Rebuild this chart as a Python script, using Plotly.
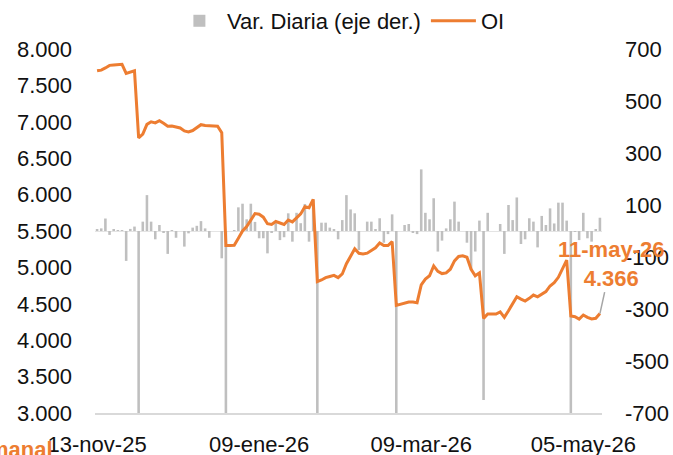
import plotly.graph_objects as go

# ---- data ----
OI = [7700, 7710, 7740, 7775, 7780, 7785, 7790, 7665, 7680, 7700,
      6780, 6830, 6965, 7000, 6985, 7015, 6980, 6940, 6942, 6925,
      6915, 6874, 6860, 6880, 6918, 6960, 6948, 6942, 6942, 6940,
      6850, 5300, 5300, 5305, 5400, 5500, 5560, 5660, 5740, 5730,
      5690, 5600, 5590, 5630, 5605, 5590, 5650, 5625, 5680, 5735,
      5834, 5820, 5935, 4804, 4827, 4860, 4875, 4890, 4860, 4910,
      5050, 5150, 5255, 5193, 5184, 5195, 5236, 5270, 5335, 5300,
      5300, 5355, 4479, 4492, 4510, 4525, 4524, 4515, 4760, 4840,
      4885, 5020, 4945, 4915, 4925, 4975, 5090, 5150, 5160, 5140,
      4975, 4885, 4925, 4300, 4360, 4360, 4360, 4388, 4314, 4405,
      4500, 4598, 4565, 4538, 4575, 4620, 4595, 4635, 4667, 4745,
      4790, 4864, 4973, 5100, 4332, 4323, 4290, 4346, 4314, 4292,
      4301, 4366]

VAR_DIARIA = [5, 10, 48, -15, 5, 3, 3, -115, 8, 17,
              -920, 36, 138, 36, -32, 23, -5, -88, 2, -26,
              0, -60, -9, 13, 20, 38, 10, -26, 0, 0,
              -105, -1550, 0, 3, 91, 105, 45, 105, 35, -28,
              -28, -86, -5, 30, -35, -24, 68, -41, 70, 30,
              104, -41, 122, -1130, 32, 32, 13, 6, -32, 42,
              138, 83, 68, -73, 0, 36, 36, 6, 49, -45,
              -12, 64, -880, 0, 23, 27, -5, -12, 237, 70,
              45, 126, -79, -37, 10, 45, 113, 36, 0, -45,
              -150, -79, 40, -650, 70, 0, 0, 27, -88, 100,
              42, 129, -50, -32, 49, 36, -63, 58, 23, 87,
              29, 109, 109, 40, -770, -3, -35, 70, -28, -41,
              4, 51]

X_INDEX = list(range(len(OI)))
X_TICK_POS = [0, 39, 78, 117]
X_TICK_TEXT = ["13-nov-25", "09-ene-26", "09-mar-26", "05-may-26"]

LEFT_TICKS = [3000, 3500, 4000, 4500, 5000, 5500, 6000, 6500, 7000, 7500, 8000]
LEFT_TICK_TEXT = ["3.000", "3.500", "4.000", "4.500", "5.000", "5.500",
                  "6.000", "6.500", "7.000", "7.500", "8.000"]
RIGHT_TICKS = [-700, -500, -300, -100, 100, 300, 500, 700]
RIGHT_TICK_TEXT = ["-700", "-500", "-300", "-100", "100", "300", "500", "700"]

LAST_LABEL_DATE = "11-may-26"
LAST_LABEL_VALUE = "4.366"

ORANGE = "#ED7D31"
GREY_BAR = "#BFBFBF"
FONT = "Liberation Sans, Arial, sans-serif"
TXT = "#111111"

fig = go.Figure()

fig.add_trace(go.Bar(
    x=X_INDEX, y=VAR_DIARIA, name="Var. Diaria (eje der.)",
    marker=dict(color=GREY_BAR, line=dict(width=0)),
    yaxis="y",
))
fig.add_trace(go.Scatter(
    x=X_INDEX, y=OI, name="OI", mode="lines",
    line=dict(color=ORANGE, width=3),
    yaxis="y2",
))

fig.update_layout(
    width=673, height=455,
    margin=dict(l=95, r=71, t=49, b=42, autoexpand=False),
    paper_bgcolor="white", plot_bgcolor="white",
    font=dict(family=FONT, size=22, color=TXT),
    bargap=0.38,
    showlegend=True,
    legend=dict(orientation="h", x=0.485, xanchor="center", y=1.077, yanchor="middle",
                font=dict(size=22, color=TXT), itemwidth=45,
                bgcolor="rgba(0,0,0,0)", traceorder="normal"),
    xaxis=dict(range=[-0.5, len(OI) - 0.5], tickvals=X_TICK_POS, ticktext=X_TICK_TEXT,
               showgrid=False, zeroline=False, showline=True, linecolor="#D9D9D9",
               linewidth=2, ticks="", ticklabelstandoff=11, automargin=False,
               tickfont=dict(size=22, color=TXT)),
    yaxis=dict(side="right", range=[-700, 700], tickvals=RIGHT_TICKS,
               ticktext=RIGHT_TICK_TEXT, showgrid=False, zeroline=True,
               zerolinecolor="#E4E4E4", zerolinewidth=1, showline=False, automargin=False,
               ticks="", ticklabelstandoff=22, tickfont=dict(size=22, color=TXT)),
    yaxis2=dict(side="left", overlaying="y", range=[3000, 8000], tickvals=LEFT_TICKS,
                ticktext=LEFT_TICK_TEXT, showgrid=False, zeroline=False, automargin=False,
                showline=False, ticks="", ticklabelstandoff=22,
                tickfont=dict(size=22, color=TXT)),
    annotations=[
        dict(x=X_INDEX[-1], y=OI[-1], xref="x", yref="y2",
             text=f"<b>{LAST_LABEL_DATE}</b><br><b>{LAST_LABEL_VALUE}</b>",
             showarrow=True, arrowhead=0, arrowwidth=1.5, arrowcolor="#A6A6A6",
             ax=11, ay=-50, align="center",
             font=dict(family=FONT, size=22, color=ORANGE)),
        dict(x=-0.079, y=-0.099, xref="paper", yref="paper",
             text="<b>Semanal</b>", showarrow=False, xanchor="right", yanchor="middle",
             font=dict(family=FONT, size=22, color=ORANGE)),
    ],
)

fig.write_html("out.html", config={"displayModeBar": False},
               post_script="document.body.style.margin='0';document.body.style.overflow='hidden';")
